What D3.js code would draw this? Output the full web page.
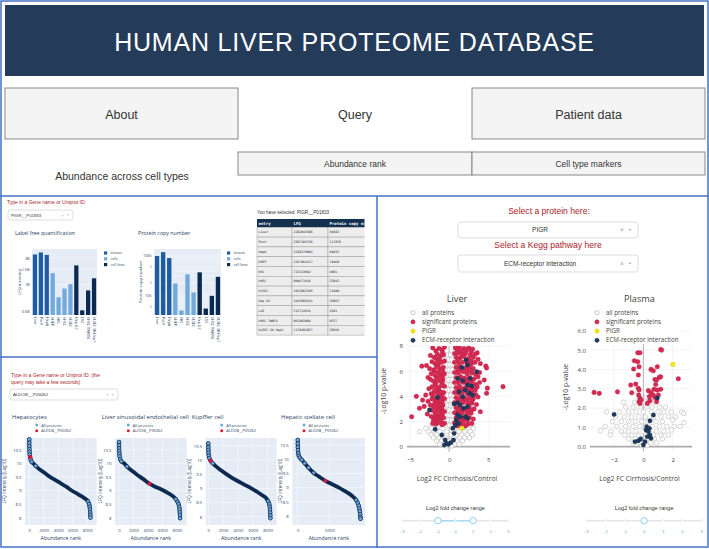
<!DOCTYPE html>
<html>
<head>
<meta charset="utf-8">
<script src="https://cdn.jsdelivr.net/npm/d3@7"></script>
<style>
  body { margin: 0; background: #fff; }
</style>
</head>
<body>
<svg id="canvas" width="709" height="549" font-family="'Liberation Sans', Arial, sans-serif"></svg>
<script>
//################################ DATA
// abundance across cell types (PIGR__P01833)
let cellTypes = ['Liver','PorV','HepA','hHEP','hKC','hHSC','hLSEC','Hep G2','LX2','hHSC TWNT4','hLSEC SK Hep1']
let cellGroups = ['tissues','tissues','tissues','cells','cells','cells','cells','cell lines','cell lines','cell lines','cell lines']
let groupNames = ['tissues','cells','cell lines']
let lfqValues = [2182043586,2297203766,2158170002,1347864517,721523062,904671916,1012862505,1645802641,515713654,861902084,1178491857]
let copyNumbers = [94682,117879,84032,19468,4091,32942,11600,36865,4581,9537,28566]
let lfqTicks = [0.5e9, 1e9, 1.5e9, 2e9]
let lfqTickLabels = ['0.5B','1B','1.5B','2B']
let copyTicks = [1e4, 1e5]
let copyTickLabels = ['10k','100k']
let copyMinorTicks = [5e3, 2e4, 5e4]
let copyMinorLabels = ['5','2','5']

// abundance rank curves [rank, log10 LFQ]
let hepCurve = [[0,10.88],[4,10.75],[10,10.63],[20,10.52],[40,10.42],[70,10.32],[120,10.22],[200,10.13],[330,10.05],[550,10.0],[900,9.9],[1400,9.78],[2000,9.67],[2850,9.5],[3500,9.4],[4300,9.27],[5100,9.14],[5840,9.0],[6600,8.88],[7300,8.77],[7800,8.68],[8100,8.6],[8250,8.5],[8330,8.4],[8370,8.3],[8400,8.2],[8420,8.1],[8440,8.0]]
let lsecCurve = [[0,10.78],[4,10.66],[10,10.55],[22,10.45],[45,10.35],[90,10.25],[170,10.15],[320,10.07],[690,10.0],[1100,9.88],[1600,9.76],[2200,9.64],[2910,9.5],[3500,9.39],[4210,9.25],[5000,9.14],[5600,9.07],[6150,9.0],[6800,8.9],[7400,8.8],[7850,8.68],[8100,8.58],[8230,8.5],[8320,8.4],[8370,8.3],[8400,8.2],[8420,8.1],[8440,7.98]]
let kupfferCurve = [[0,10.58],[4,10.45],[12,10.35],[30,10.25],[70,10.15],[150,10.06],[310,9.97],[600,9.88],[1000,9.78],[1600,9.65],[2440,9.5],[3300,9.35],[4000,9.25],[4900,9.12],[5800,9.0],[6600,8.87],[7300,8.75],[7800,8.65],[8050,8.55],[8200,8.45],[8270,8.35],[8310,8.25],[8330,8.15],[8345,8.05],[8360,7.95]]
let stellateCurve = [[0,10.68],[5,10.55],[15,10.43],[35,10.32],[80,10.21],[170,10.12],[330,10.05],[640,9.98],[1100,9.86],[1700,9.7],[2500,9.52],[3400,9.38],[4360,9.24],[5400,9.12],[6490,9.0],[7400,8.88],[8200,8.77],[8800,8.66],[9200,8.56],[9450,8.46],[9600,8.36],[9700,8.26],[9780,8.16],[9840,8.06],[9880,7.96],[9900,7.9]]
let aldobPoints = [[120,10.23],[4210,9.25],[310,9.97],[4360,9.24]]
let rankTicksY = [8, 8.5, 9, 9.5, 10, 10.5]

// volcano: liver [log2 FC, -log10 p]
let liverAll = [[-0.3,7.3],[0.2,7.3],[-0.5,6.9],[-0.1,6.9],[0.35,6.9],[-0.35,6.5],[0.1,6.5],[0.5,6.5],[-0.45,6.1],[0.0,6.1],[0.4,6.1],[-0.3,5.7],[0.15,5.7],[0.5,5.7],[-0.45,5.3],[-0.05,5.3],[0.35,5.3],[-0.3,4.9],[0.15,4.9],[0.5,4.9],[-0.45,4.5],[0.0,4.5],[0.4,4.5],[-0.25,4.1],[0.2,4.1],[0.55,4.1],[-0.45,3.7],[-0.05,3.7],[0.35,3.7],[-0.3,3.3],[0.15,3.3],[0.5,3.3],[-0.5,2.9],[0.0,2.9],[0.4,2.9],[-0.35,2.5],[0.1,2.5],[0.5,2.5],[-0.5,2.1],[-0.1,2.1],[0.3,2.1],[0.6,2.1],[-0.4,1.7],[0.05,1.7],[0.45,1.7],[-2.2,1.7],[2.9,1.7],[-3.0,1.45],[-2.3,1.45],[-1.6,1.45],[-0.9,1.45],[1.0,1.45],[1.7,1.45],[2.4,1.45],[3.1,1.45],[-3.8,1.2],[-2.6,1.2],[-1.9,1.2],[-1.2,1.2],[-0.3,1.2],[0.5,1.2],[1.3,1.2],[2.0,1.2],[2.7,1.2],[-2.3,0.95],[-1.6,0.95],[-0.9,0.95],[0.2,0.95],[0.9,0.95],[1.6,0.95],[2.3,0.95],[3.0,0.95],[-2.0,0.7],[-1.3,0.7],[-0.5,0.7],[0.6,0.7],[1.3,0.7],[2.0,0.7],[2.6,0.7],[-1.6,0.45],[-1.0,0.45],[-0.2,0.45],[0.4,0.45],[1.0,0.45],[1.7,0.45],[-1.2,0.2],[-0.6,0.2],[0.1,0.2],[0.7,0.2],[1.3,0.2],[-0.4,0.05],[0.3,0.05]]
let liverSig = [
  [-0.6,7.9],[-0.9,7.7],[-1.3,7.8],[-1.7,7.6],[-2.1,7.85],[-0.85,7.5],
  [-0.7,7.3],[-1.1,7.2],[-1.5,7.35],[-1.9,7.1],[-2.4,7.25],[-1.25,6.95],[-1.65,7.0],
  [-0.6,6.8],[-1.0,6.7],[-1.4,6.85],[-1.8,6.6],[-2.2,6.75],[-2.9,6.45],[-3.5,6.4],[-1.4,6.5],
  [-0.75,6.3],[-1.2,6.2],[-1.6,6.35],[-2.0,6.1],[-2.5,6.2],[-0.85,6.05],[-1.85,6.0],
  [-0.6,5.8],[-1.0,5.75],[-1.4,5.9],[-1.8,5.65],[-2.3,5.8],[-2.7,5.5],[-0.85,5.55],[-1.25,5.6],
  [-0.8,5.3],[-1.2,5.25],[-1.6,5.4],[-2.0,5.2],[-2.4,5.35],[-1.7,5.05],[-0.9,5.05],
  [-0.6,4.8],[-1.0,4.85],[-1.4,4.7],[-1.8,4.9],[-2.2,4.75],[-2.6,4.6],[-1.3,4.5],[-1.65,4.55],
  [-0.7,4.3],[-1.1,4.35],[-1.5,4.25],[-1.9,4.4],[-2.3,4.2],[-3.0,4.1],[-4.2,4.0],[-0.9,4.05],[-1.25,4.0],[-2.05,4.05],
  [-0.6,3.8],[-1.0,3.75],[-1.4,3.85],[-1.8,3.7],[-2.2,3.8],[-2.7,3.6],[-3.4,3.7],[-0.9,3.5],[-1.4,3.55],[-1.85,3.45],
  [-0.8,3.3],[-1.2,3.25],[-1.6,3.35],[-2.0,3.2],[-2.4,3.3],[-3.2,3.2],[-3.8,3.05],[-0.95,3.05],[-1.3,3.0],[-1.7,3.05],
  [-0.6,2.8],[-1.0,2.75],[-1.4,2.85],[-1.8,2.7],[-2.2,2.9],[-2.8,2.6],[-0.9,2.55],[-1.3,2.5],[-1.75,2.5],
  [-0.7,2.3],[-1.1,2.25],[-1.5,2.35],[-1.9,2.2],[-2.3,2.4],[-4.8,2.38],[-1.05,2.0],[-1.5,2.05],[-2.0,2.1],
  [-0.6,1.85],[-0.9,1.75],[-1.3,1.9],[-1.7,1.8],[-2.1,1.85],
  [0.8,7.85],[1.3,7.9],[1.9,7.8],[2.5,7.85],[3.0,7.75],[3.6,7.45],[1.05,7.65],[1.6,7.6],[2.2,7.65],[2.8,7.55],
  [0.7,7.4],[1.1,7.45],[1.6,7.35],[2.1,7.4],[2.7,7.3],[3.3,7.35],
  [0.9,7.1],[1.4,7.05],[1.9,7.15],[2.5,7.0],[3.1,7.1],[3.7,6.95],[1.15,6.9],[2.2,6.85],[2.8,6.8],
  [0.7,6.7],[1.2,6.65],[1.7,6.7],[2.3,6.6],[2.8,6.55],[3.3,6.7],[4.0,6.6],
  [0.9,6.3],[1.4,6.35],[2.0,6.25],[2.6,6.3],[3.1,6.2],[4.7,6.4],[4.8,6.25],[1.15,6.1],[1.7,6.05],[2.35,6.05],[2.85,6.0],
  [0.7,5.9],[1.2,5.85],[1.8,5.95],[2.3,5.8],[2.9,5.85],[3.4,5.75],[3.9,5.9],
  [0.9,5.5],[1.5,5.55],[2.0,5.45],[2.6,5.5],[3.2,5.4],[3.7,5.55],[1.2,5.3],[1.75,5.3],[2.3,5.25],[2.9,5.2],[4.5,5.3],
  [0.7,5.1],[1.2,5.05],[1.8,5.1],[2.3,5.0],[2.8,5.05],[3.4,4.95],[3.9,5.1],
  [0.9,4.7],[1.4,4.75],[2.0,4.65],[2.6,4.7],[3.1,4.6],[3.6,4.75],[4.9,4.65],[6.9,4.77],[1.15,4.5],[1.7,4.5],[2.3,4.45],[2.85,4.45],[3.35,4.5],
  [0.7,4.3],[1.2,4.25],[1.7,4.3],[2.3,4.2],[2.9,4.25],[3.4,4.15],[4.8,4.25],
  [0.9,3.9],[1.5,3.95],[2.0,3.85],[2.6,3.9],[3.1,3.8],[3.7,3.95],[1.2,3.7],[1.75,3.65],[2.3,3.7],[2.9,3.6],
  [0.7,3.5],[1.2,3.45],[1.8,3.5],[2.4,3.4],[2.9,3.45],[3.5,3.35],
  [0.9,3.1],[1.4,3.15],[2.0,3.05],[2.6,3.1],[3.2,3.0],[1.15,2.9],[1.7,2.85],[2.3,2.9],[2.85,2.85],
  [0.7,2.7],[1.2,2.65],[1.7,2.7],[2.3,2.6],[2.8,2.65],[4.0,2.78],
  [0.9,2.3],[1.5,2.35],[2.0,2.25],[2.6,2.3],[3.1,2.2],[1.2,2.1],[1.75,2.05],[2.35,2.1],
  [0.7,1.9],[1.2,1.85],[1.8,1.9],[2.4,1.8],[2.9,1.85],[1.0,1.65],[1.5,1.7],[2.1,1.65]
]
let liverEcm = [[2.18,6.89],[2.35,6.49],[3.55,5.96],[1.62,6.3],[1.11,5.43],[2.69,5.43],[1.75,5.25],[2.35,4.9],[2.9,4.82],[2.05,4.5],[1.28,4.37],[2.6,4.24],[3.03,4.1],[1.75,3.97],[1.07,3.5],[0.64,3.39],[1.41,3.31],[2.35,3.18],[1.84,3.05],[1.07,2.52],[1.41,2.38],[0.9,2.12],[2.05,2.38],[2.35,2.28],[0.77,1.72],[0.47,1.46],[1.2,1.85],[-1.5,3.92],[-2.52,2.91],[-1.79,1.38],[-0.94,0.93],[-0.51,0.53],[-0.3,0.26],[-0.09,0.19],[0.21,0.32],[0.56,0.53],[0.64,1.06],[-0.6,0.13]]
let liverPigr = [[1.62,1.46]]

// volcano: plasma
let plasmaAll = [[-0.3,2.55],[0.2,2.55],[0.5,2.55],[-1.35,2.3],[-0.6,2.3],[-0.1,2.3],[0.35,2.3],[0.8,2.3],[-1.2,2.05],[-0.7,2.05],[-0.2,2.05],[0.25,2.05],[0.6,2.05],[1.1,2.05],[1.5,2.05],[-2.5,1.8],[-1.6,1.8],[-1.0,1.8],[-0.5,1.8],[0.0,1.8],[0.55,1.8],[1.0,1.8],[1.4,1.8],[1.9,1.8],[2.6,1.8],[2.75,1.72],[-1.9,1.55],[-1.3,1.55],[-0.8,1.55],[-0.3,1.55],[0.15,1.55],[0.7,1.55],[1.2,1.55],[1.7,1.55],[2.2,1.55],[-2.1,1.3],[-1.5,1.3],[-1.0,1.3],[-0.55,1.3],[-0.1,1.3],[0.3,1.3],[0.85,1.3],[1.3,1.3],[2.0,1.38],[2.76,1.24],[-2.6,1.05],[-1.8,1.05],[-1.2,1.05],[-0.7,1.05],[-0.25,1.05],[0.15,1.05],[0.6,1.05],[1.1,1.05],[1.6,1.05],[2.1,1.05],[2.5,1.05],[-2.9,0.83],[-2.2,0.8],[-1.5,0.8],[-1.0,0.8],[-0.5,0.8],[0.0,0.8],[0.4,0.8],[0.9,0.8],[1.4,0.8],[1.92,0.86],[-2.26,0.6],[-1.3,0.6],[-0.8,0.6],[-0.35,0.6],[0.2,0.6],[0.7,0.6],[1.2,0.6],[1.7,0.6],[-1.0,0.4],[-0.55,0.4],[-0.15,0.4],[0.3,0.4],[0.75,0.4],[1.3,0.4],[-0.7,0.2],[-0.3,0.2],[0.15,0.2],[0.5,0.2],[0.9,0.2],[-0.1,0.05],[0.25,0.05]]
let plasmaSig = [[-3.35,2.81],[-3.0,2.76],[-1.76,2.84],[-0.79,2.79],[-0.86,3.19],[-0.52,3.24],[-0.34,3.02],[-0.38,4.86],[-0.23,4.86],[-0.61,4.45],[-0.38,4.4],[-0.29,4.14],[-0.66,4.02],[-0.34,3.71],[-0.29,2.93],[-0.32,2.67],[-0.23,2.5],[-0.29,2.33],[-0.23,2.24],[-0.16,2.41],[1.18,5.03],[1.24,5.0],[0.52,4.0],[0.68,3.93],[0.95,4.14],[1.09,3.59],[0.79,3.48],[0.9,3.45],[1.18,3.62],[0.84,3.22],[0.72,2.97],[0.95,2.93],[1.18,2.97],[0.34,2.9],[0.52,2.79],[0.68,2.67],[0.41,2.59],[0.79,2.55],[1.02,2.67],[0.45,2.38],[0.9,2.33],[0.27,2.24],[2.38,3.52]]
let plasmaEcm = [[-1.99,1.67],[0.95,2.52],[0.68,1.64],[0.45,1.34],[0.23,1.03],[0.41,0.95],[0.18,0.86],[0.34,0.78],[0.45,0.6],[0.27,0.52],[-0.34,0.31],[-0.18,0.4],[0,0.09],[-0.57,0.26],[0.11,0.26],[0.52,0.43]]
let plasmaPigr = [[2.01,4.26]]

let volcanoLegend = ['all proteins','significant proteins','PIGR','ECM-receptor interaction']
let sliderMarks = [-3,-2,-1,0,1,2,3]

//################################ DRAWING
let svg = d3.select('#canvas')
let plotFont = '"Open Sans", "Liberation Sans", sans-serif'
let monoFont = '"DejaVu Sans Mono", "Liberation Mono", monospace'
let navy = '#0d2b50'
let red = '#d52a52'
let darkRed = '#a8232b'
let frameBlue = '#4472c4'
let groupColor = {'tissues': '#1f5da3', 'cells': '#72a9dd', 'cell lines': '#0b2a52'}

let addText = (g, x, y, s, size, opt = {}) => {
    let t = g.append('text')
        .attr('x', x).attr('y', y)
        .attr('font-size', size)
        .attr('fill', opt.fill || '#333')
        .attr('text-anchor', opt.anchor || 'start')
        .text(s)
    if (opt.font) t.attr('font-family', opt.font)
    if (opt.weight) t.attr('font-weight', opt.weight)
    return t
}

let dropdown = (x, y, w, h, label, centered, size) => {
    svg.append('rect').attr('x', x).attr('y', y).attr('width', w).attr('height', h)
        .attr('rx', 2.5).attr('fill', '#fff').attr('stroke', '#cfcfcf').attr('stroke-width', 0.7)
    addText(svg, centered ? x + w / 2 - 8 : x + 3, y + h / 2 + size * 0.35, label, size,
        {anchor: centered ? 'middle' : 'start'})
    addText(svg, x + w - 16 * size / 6.5, y + h / 2 + size * 0.35, '×', size, {fill: '#999', anchor: 'middle'})
    let tx = x + w - 8 * size / 6.5, ty = y + h / 2
    let a = size * 0.25
    svg.append('path').attr('d', `M${tx - a},${ty - a / 2}L${tx + a},${ty - a / 2}L${tx},${ty + a / 2}Z`).attr('fill', '#999')
}

// header and navigation
svg.append('rect').attr('x', 5).attr('y', 5).attr('width', 699).attr('height', 71).attr('fill', '#243b59')
addText(svg, 354.5, 51, 'HUMAN LIVER PROTEOME DATABASE', 25, {fill: '#fff', anchor: 'middle'})
    .attr('letter-spacing', 0.8)

let navBoxes = [{x: 5, w: 233, label: 'About'}, {x: 472, w: 233, label: 'Patient data'}]
navBoxes.forEach((b) => {
    svg.append('rect').attr('x', b.x).attr('y', 88).attr('width', b.w).attr('height', 51)
        .attr('fill', '#f4f4f4').attr('stroke', '#7d7d7d').attr('stroke-width', 0.9)
    addText(svg, b.x + b.w / 2, 118.5, b.label, 12.5, {anchor: 'middle'})
})
addText(svg, 355, 118.5, 'Query', 12.5, {anchor: 'middle'})

let subTabs = [{x: 238, w: 234, label: 'Abundance rank'}, {x: 472, w: 233, label: 'Cell type markers'}]
subTabs.forEach((b) => {
    svg.append('rect').attr('x', b.x).attr('y', 152).attr('width', b.w).attr('height', 23)
        .attr('fill', '#f4f4f4').attr('stroke', '#7d7d7d').attr('stroke-width', 0.9)
    addText(svg, b.x + b.w / 2, 166.5, b.label, 8.5, {anchor: 'middle'})
})
addText(svg, 122, 180, 'Abundance across cell types', 10.5, {anchor: 'middle'})

// panel frames
svg.append('rect').attr('x', 1).attr('y', 1).attr('width', 707).attr('height', 546)
    .attr('fill', 'none').attr('stroke', frameBlue).attr('stroke-width', 1.5)
svg.append('line').attr('x1', 0).attr('x2', 709).attr('y1', 196).attr('y2', 196).attr('stroke', frameBlue).attr('stroke-width', 1.5)
svg.append('line').attr('x1', 377).attr('x2', 377).attr('y1', 196).attr('y2', 548).attr('stroke', frameBlue).attr('stroke-width', 1.5)
svg.append('line').attr('x1', 0).attr('x2', 377).attr('y1', 357).attr('y2', 357).attr('stroke', frameBlue).attr('stroke-width', 1.5)

//################################ BAR CHARTS
addText(svg, 7, 204, 'Type in a Gene name or Uniprot ID:', 5, {fill: darkRed})
dropdown(8, 210, 65, 10, 'PIGR__P01833', false, 4.3)

let drawBars = (cfg) => {
    let g = svg.append('g')
    g.append('rect').attr('x', cfg.left).attr('y', cfg.top).attr('width', cfg.right - cfg.left)
        .attr('height', cfg.bottom - cfg.top).attr('fill', '#e5ecf6')
    let x = d3.scaleBand().domain(cellTypes).range([cfg.left, cfg.right]).paddingInner(0.28).paddingOuter(0.14)
    let y = d3.scaleLog().domain(cfg.domain).range([cfg.bottom, cfg.top])

    g.selectAll('.grid').data(cfg.grid).enter().append('line')
        .attr('x1', cfg.left).attr('x2', cfg.right)
        .attr('y1', (d) => y(d)).attr('y2', (d) => y(d))
        .attr('stroke', '#fff').attr('stroke-width', 0.5)

    g.selectAll('.bar').data(cfg.values).enter().append('rect')
        .attr('x', (d, i) => x(cellTypes[i]))
        .attr('width', x.bandwidth())
        .attr('y', (d) => y(d))
        .attr('height', (d) => cfg.bottom - y(d))
        .attr('fill', (d, i) => groupColor[cellGroups[i]])

    let yAxis = g.append('g').attr('transform', `translate(${cfg.left},0)`)
        .call(d3.axisLeft(y).tickValues(cfg.ticks).tickFormat((d, i) => cfg.tickLabels[i]).tickSize(0).tickPadding(2.5))
    yAxis.select('.domain').remove()
    yAxis.selectAll('text').attr('font-size', 3.8).attr('fill', '#2a3f5f').attr('font-family', plotFont)
    if (cfg.minor) {
        g.selectAll('.minor').data(cfg.minor).enter().append('text')
            .attr('x', cfg.left - 2.5).attr('y', (d) => y(d)).attr('dy', '0.35em')
            .attr('text-anchor', 'end').attr('font-size', 2.8).attr('fill', '#2a3f5f')
            .attr('font-family', plotFont)
            .text((d, i) => cfg.minorLabels[i])
    }

    g.selectAll('.xl').data(cellTypes).enter().append('text')
        .attr('transform', (d) => `translate(${x(d) + x.bandwidth() / 2},${cfg.bottom + 2}) rotate(90)`)
        .attr('dy', '0.35em').attr('font-size', 3.6).attr('fill', '#2a3f5f').attr('font-family', plotFont)
        .text((d) => d)

    addText(g, cfg.titleX, 235, cfg.title, 5.3, {fill: '#2a3f5f', font: plotFont})
    g.append('text').attr('transform', `translate(${cfg.yTitleX},${(cfg.top + cfg.bottom) / 2}) rotate(-90)`)
        .attr('text-anchor', 'middle').attr('font-size', 4.3).attr('fill', '#2a3f5f')
        .attr('font-family', plotFont).text(cfg.yTitle)

    let leg = g.selectAll('.leg').data(groupNames).enter().append('g')
        .attr('transform', (d, i) => `translate(${cfg.legendX},${253 + i * 5.8})`)
    leg.append('rect').attr('x', 0).attr('y', -1.6).attr('width', 3.2).attr('height', 3.2).attr('fill', (d) => groupColor[d])
    leg.append('text').attr('x', 6.5).attr('y', 0).attr('dy', '0.35em').attr('font-size', 3.6)
        .attr('fill', '#2a3f5f').attr('font-family', plotFont).text((d) => d)
}

drawBars({left: 32, right: 97, top: 249, bottom: 315, values: lfqValues,
    domain: [Math.pow(10, 8.66), Math.pow(10, 9.4)], ticks: lfqTicks, tickLabels: lfqTickLabels,
    grid: lfqTicks, title: 'Label free quantification', titleX: 15, yTitle: 'LFQ intensity', yTitleX: 21, legendX: 104})

let copyGrid = []
;[1e3, 1e4, 1e5].forEach((dec) => { for (let k = 1; k < 10; k++) copyGrid.push(dec * k) })
copyGrid = copyGrid.filter((d) => d > 3200 && d < 140000)
drawBars({left: 154, right: 221, top: 249, bottom: 315, values: copyNumbers,
    domain: [Math.pow(10, 3.5), Math.pow(10, 5.15)], ticks: copyTicks, tickLabels: copyTickLabels,
    minor: copyMinorTicks, minorLabels: copyMinorLabels,
    grid: copyGrid, title: 'Protein copy number', titleX: 138, yTitle: 'Protein copy number', yTitleX: 142, legendX: 227})

// selected protein table
addText(svg, 257, 213.5, 'You have selected: PIGR__P01833', 4.6, {fill: '#333'})
let tableCols = ['entry', 'LFQ', 'Protein copy number']
let colX = [257, 292, 328]
let tg = svg.append('g')
svg.append('clipPath').attr('id', 'tclip').append('rect').attr('x', 256).attr('y', 218).attr('width', 108.5).attr('height', 120)
tg.attr('clip-path', 'url(#tclip)')
tg.append('rect').attr('x', 257).attr('y', 219).attr('width', 115).attr('height', 8.3).attr('fill', '#13304f')
tableCols.forEach((c, i) => {
    addText(tg, colX[i] + 1.5, 224.8, c, 4, {fill: '#fff', font: monoFont, weight: 'bold'})
})
cellTypes.forEach((c, r) => {
    let ry = 227.3 + r * 9.8
    let row = [c, String(lfqValues[r]), String(copyNumbers[r])]
    row.forEach((v, i) => {
        tg.append('rect').attr('x', colX[i]).attr('y', ry).attr('width', i < 2 ? colX[i + 1] - colX[i] : 44)
            .attr('height', 9.8).attr('fill', '#ededed').attr('stroke', '#9a9a9a').attr('stroke-width', 0.5)
        addText(tg, colX[i] + 1.5, ry + 6, v, 3.2, {fill: '#222', font: monoFont})
    })
})

//################################ ABUNDANCE RANK
addText(svg, 11, 377, 'Type in a Gene name or Uniprot ID: (the', 5, {fill: darkRed})
addText(svg, 11, 384, 'query may take a few seconds)', 5, {fill: darkRed})
dropdown(10, 389, 108, 11, 'ALDOB__P05062', false, 4.4)

let drawRank = (cfg) => {
    let g = svg.append('g')
    g.append('rect').attr('x', cfg.left).attr('y', 438).attr('width', cfg.right - cfg.left)
        .attr('height', 87).attr('fill', '#e5ecf6')
    let x = d3.scaleLinear().domain(cfg.xDomain).range([cfg.left, cfg.right])
    let y = d3.scaleLinear().domain(cfg.yDomain).range([525, 438])

    g.selectAll('.gy').data(rankTicksY).enter().append('line')
        .attr('x1', cfg.left).attr('x2', cfg.right).attr('y1', (d) => y(d)).attr('y2', (d) => y(d))
        .attr('stroke', '#fff').attr('stroke-width', 0.5)
    g.selectAll('.gx').data(cfg.xTicks).enter().append('line')
        .attr('y1', 438).attr('y2', 525).attr('x1', (d) => x(d)).attr('x2', (d) => x(d))
        .attr('stroke', '#fff').attr('stroke-width', 0.5)

    let line = d3.line().x((d) => x(d[0])).y((d) => y(d[1])).curve(d3.curveMonotoneX)
    g.append('path').attr('d', line(cfg.data)).attr('fill', 'none')
        .attr('stroke', navy).attr('stroke-width', 3.8).attr('stroke-linecap', 'round')
    let steep = cfg.data.filter((d, i) => {
        if (i === 0) return true
        let p = cfg.data[i - 1]
        return Math.abs(y(d[1]) - y(p[1])) > Math.abs(x(d[0]) - x(p[0]))
    })
    g.selectAll('.pt').data(steep).enter().append('circle')
        .attr('cx', (d) => x(d[0])).attr('cy', (d) => y(d[1])).attr('r', 1.9)
        .attr('fill', '#6fa8dc').attr('stroke', navy).attr('stroke-width', 0.7)
    g.append('circle').attr('cx', x(cfg.red[0])).attr('cy', y(cfg.red[1])).attr('r', 2)
        .attr('fill', '#e0163f')

    let yAxis = g.append('g').attr('transform', `translate(${cfg.left},0)`)
        .call(d3.axisLeft(y).tickValues(rankTicksY).tickSize(0).tickPadding(3.5).tickFormat(d3.format('')))
    let xAxis = g.append('g').attr('transform', 'translate(0,525)')
        .call(d3.axisBottom(x).tickValues(cfg.xTicks).tickSize(0).tickPadding(3.5).tickFormat(d3.format('')))
    ;[yAxis, xAxis].forEach((a) => {
        a.select('.domain').remove()
        a.selectAll('text').attr('font-size', 4.3).attr('fill', '#2a3f5f').attr('font-family', plotFont)
    })

    addText(g, cfg.titleX, 419, cfg.title, 6, {fill: '#2a3f5f', font: plotFont})
    let legItems = [{c: '#6fa8dc', t: 'All proteins'}, {c: '#e0163f', t: 'ALDOB__P05062'}]
    legItems.forEach((it, i) => {
        g.append('circle').attr('cx', cfg.legendX).attr('cy', 425 + i * 5.7).attr('r', 1.5).attr('fill', it.c)
        addText(g, cfg.legendX + 4.5, 426.5 + i * 5.7, it.t, 3.9, {fill: '#2a3f5f', font: plotFont})
    })
    g.append('text').attr('transform', `translate(${cfg.yTitleX},481) rotate(-90)`)
        .attr('text-anchor', 'middle').attr('font-size', 4.6).attr('fill', '#2a3f5f')
        .attr('font-family', plotFont).text('LFQ intensity [Log10]')
    addText(g, (cfg.left + cfg.right) / 2, 540, 'Abundance rank', 5.3, {fill: '#2a3f5f', font: plotFont, anchor: 'middle'})
}

drawRank({data: hepCurve, red: aldobPoints[0], left: 25, right: 96.7, xDomain: [-590, 9300], yDomain: [7.73, 10.93],
    xTicks: [0, 2000, 4000, 6000, 8000], title: 'Hepatocytes', titleX: 12, legendX: 36.7, yTitleX: 6})
drawRank({data: lsecCurve, red: aldobPoints[1], left: 115, right: 186.7, xDomain: [-560, 9360], yDomain: [7.73, 10.93],
    xTicks: [0, 2000, 4000, 6000, 8000], title: 'Liver sinusoidal endothelial cell', titleX: 101.7, legendX: 128.3, yTitleX: 101.5})
drawRank({data: kupfferCurve, red: aldobPoints[2], left: 205.7, right: 276.7, xDomain: [-350, 9210], yDomain: [7.71, 10.77],
    xTicks: [0, 2000, 4000, 6000, 8000], title: 'Kupffer cell', titleX: 191.7, legendX: 221.7, yTitleX: 191})
drawRank({data: stellateCurve, red: aldobPoints[3], left: 292.3, right: 365, xDomain: [-860, 10600], yDomain: [7.68, 10.75],
    xTicks: [0, 5000], title: 'Hepatic stellate cell', titleX: 281, legendX: 304, yTitleX: 282})

//################################ VOLCANO PLOTS
addText(svg, 549, 214, 'Select a protein here:', 8.6, {fill: darkRed, anchor: 'middle'})
dropdown(458, 222, 180, 16, 'PIGR', true, 6.5)
addText(svg, 548, 248, 'Select a Kegg pathway here', 8.6, {fill: darkRed, anchor: 'middle'})
dropdown(458, 255, 180, 17, 'ECM-receptor interaction', true, 6.5)

let markerStyle = [
    {fill: '#fff', stroke: '#b8b8b8', sw: 0.6, r: 2.3},
    {fill: red, stroke: '#b81f45', sw: 0.35, r: 2.3},
    {fill: '#f4ea16', stroke: '#cfc400', sw: 0.4, r: 2.3},
    {fill: '#1f3a5c', stroke: '#152a45', sw: 0.3, r: 2.2}
]

let drawVolcano = (cfg) => {
    let g = svg.append('g')
    let x = d3.scaleLinear().domain(cfg.xDomain).range([cfg.left, cfg.right])
    let y = d3.scaleLinear().domain(cfg.yDomain).range([cfg.bottom, cfg.top])
    svg.append('clipPath').attr('id', 'clip' + cfg.title).append('rect')
        .attr('x', cfg.left).attr('y', cfg.top).attr('width', cfg.right - cfg.left).attr('height', cfg.bottom - cfg.top)

    g.selectAll('.gy').data(cfg.yTicks).enter().append('line')
        .attr('x1', cfg.left).attr('x2', cfg.right).attr('y1', (d) => y(d)).attr('y2', (d) => y(d))
        .attr('stroke', '#ececec').attr('stroke-width', 0.6)
    g.selectAll('.gx').data(cfg.xTicks).enter().append('line')
        .attr('y1', cfg.top).attr('y2', cfg.bottom).attr('x1', (d) => x(d)).attr('x2', (d) => x(d))
        .attr('stroke', '#ececec').attr('stroke-width', 0.6)
    g.append('line').attr('x1', x(0)).attr('x2', x(0)).attr('y1', cfg.top).attr('y2', cfg.bottom)
        .attr('stroke', '#a3a3a3').attr('stroke-width', 0.8)
    g.append('line').attr('x1', cfg.left).attr('x2', cfg.right).attr('y1', y(0)).attr('y2', y(0))
        .attr('stroke', '#ababab').attr('stroke-width', 1.8)

    let pts = g.append('g').attr('clip-path', `url(#clip${cfg.title})`)
    let sets = [cfg.all, cfg.sig, cfg.pigr, cfg.ecm]
    sets.forEach((set, k) => {
        let st = markerStyle[k]
        pts.append('g').selectAll('circle').data(set).enter().append('circle')
            .attr('cx', (d) => x(d[0])).attr('cy', (d) => y(d[1])).attr('r', st.r)
            .attr('fill', st.fill).attr('stroke', st.stroke).attr('stroke-width', st.sw)
    })

    let yAxis = g.append('g').attr('transform', `translate(${cfg.left},0)`)
        .call(d3.axisLeft(y).tickValues(cfg.yTicks).tickSize(0).tickPadding(4))
    let xAxis = g.append('g').attr('transform', `translate(0,${cfg.bottom})`)
        .call(d3.axisBottom(x).tickValues(cfg.xTicks).tickSize(0).tickPadding(6).tickFormat((d) => d < 0 ? '\u2212' + Math.abs(d) : d))
    ;[yAxis, xAxis].forEach((a) => {
        a.select('.domain').remove()
        a.selectAll('text').attr('font-size', 6).attr('fill', '#444').attr('font-family', plotFont)
    })

    // legend
    if (cfg.legendBg) {
        g.append('rect').attr('x', cfg.legendX - 4).attr('y', 308).attr('width', 86).attr('height', 36).attr('fill', '#fff')
    }
    volcanoLegend.forEach((t, i) => {
        let st = markerStyle[i]
        let ly = 312.7 + i * 9.2
        g.append('circle').attr('cx', cfg.legendX).attr('cy', ly).attr('r', 2.1)
            .attr('fill', st.fill).attr('stroke', st.stroke).attr('stroke-width', st.sw + 0.2)
        addText(g, cfg.legendX + 9, ly + 2.1, t === 'PIGR' ? cfg.protein : t, 6.2, {fill: '#444', font: plotFont})
    })

    addText(g, cfg.titleX, 301.5, cfg.title, 9.2, {fill: '#444', font: plotFont, anchor: 'middle'})
    g.append('text').attr('transform', `translate(${cfg.yTitleX},${cfg.yTitleY}) rotate(-90)`)
        .attr('text-anchor', 'middle').attr('font-size', 6.8).attr('fill', '#444')
        .attr('font-family', plotFont).text('-Log10 p-value')
    addText(g, cfg.titleX, 481, 'Log2 FC Cirrhosis/Control', 6.8, {fill: '#444', font: plotFont, anchor: 'middle'})
}

drawVolcano({title: 'Liver', protein: 'PIGR', left: 407, right: 510, top: 346, bottom: 451.7,
    xDomain: [-5.4, 7.8], yDomain: [-0.4, 8.0], xTicks: [-5, 0, 5], yTicks: [0, 2, 4, 6, 8],
    all: liverAll, sig: liverSig, pigr: liverPigr, ecm: liverEcm,
    titleX: 457, legendX: 413, yTitleX: 386, yTitleY: 391, legendBg: false})
drawVolcano({title: 'Plasma', protein: 'PIGR', left: 590, right: 692, top: 327.9, bottom: 451.7,
    xDomain: [-3.63, 3.31], yDomain: [-0.26, 6.15], xTicks: [-2, 0, 2], yTicks: [0, 1, 2, 3, 4, 5, 6],
    all: plasmaAll, sig: plasmaSig, pigr: plasmaPigr, ecm: plasmaEcm,
    titleX: 639.5, legendX: 597, yTitleX: 567.5, yTitleY: 387, legendBg: true})

// fold change sliders
let drawSlider = (cfg) => {
    let g = svg.append('g')
    let s = d3.scaleLinear().domain([-3, 3]).range([cfg.left, cfg.right])
    addText(g, (cfg.left + cfg.right) / 2, 510, 'Log2 fold change range', 5.6, {fill: '#333', anchor: 'middle'})
    g.append('line').attr('x1', s(-3)).attr('x2', s(3)).attr('y1', 520.7).attr('y2', 520.7)
        .attr('stroke', '#e6e6e6').attr('stroke-width', 1.4)
    if (cfg.range[0] !== cfg.range[1]) {
        g.append('line').attr('x1', s(cfg.range[0])).attr('x2', s(cfg.range[1])).attr('y1', 520.7).attr('y2', 520.7)
            .attr('stroke', '#a9dcf0').attr('stroke-width', 1.4)
    }
    g.selectAll('.dot').data(sliderMarks).enter().append('circle')
        .attr('cx', (d) => s(d)).attr('cy', 520.7).attr('r', 1.2)
        .attr('fill', '#fff').attr('stroke', (d) => d >= cfg.range[0] && d <= cfg.range[1] ? '#a9dcf0' : '#e0e0e0')
        .attr('stroke-width', 0.6)
    g.selectAll('.lab').data(sliderMarks).enter().append('text')
        .attr('x', (d) => s(d)).attr('y', 532.5).attr('text-anchor', 'middle')
        .attr('font-size', 4.4).attr('fill', '#5fb0c4').text((d) => d)
    cfg.handles.forEach((h) => {
        g.append('circle').attr('cx', s(h)).attr('cy', 520.7).attr('r', 3.2)
            .attr('fill', '#fff').attr('stroke', '#8fd2ee').attr('stroke-width', 1)
    })
}
drawSlider({left: 402.7, right: 508.3, range: [-1, 1], handles: [-1, 1]})
drawSlider({left: 586.7, right: 701.7, range: [0, 0], handles: [0]})
</script>
</body>
</html>
